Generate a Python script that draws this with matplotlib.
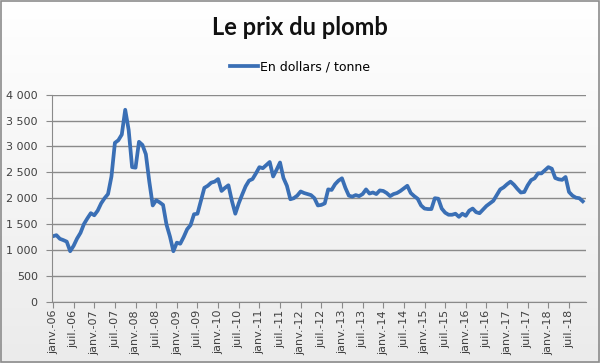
import numpy as np
import matplotlib
matplotlib.use("Agg")
import matplotlib.pyplot as plt
from matplotlib.patches import Rectangle

# Prix mensuel du plomb, janv. 2006 -> nov. 2018 (USD / tonne)
prix_2006 = [1265, 1285, 1215, 1190, 1160, 975, 1080, 1220, 1330, 1500, 1610, 1710]
prix_2007 = [1670, 1760, 1900, 2000, 2080, 2420, 3070, 3120, 3230, 3710, 3320, 2600]
prix_2008 = [2590, 3090, 3030, 2850, 2320, 1860, 1960, 1920, 1870, 1490, 1260, 975]
prix_2009 = [1140, 1120, 1250, 1400, 1480, 1690, 1700, 1950, 2200, 2240, 2300, 2320]
prix_2010 = [2370, 2140, 2200, 2250, 1950, 1700, 1900, 2070, 2230, 2340, 2370, 2480]
prix_2011 = [2600, 2580, 2640, 2700, 2420, 2550, 2690, 2390, 2240, 1980, 2000, 2050]
prix_2012 = [2130, 2100, 2080, 2060, 2000, 1860, 1870, 1900, 2170, 2160, 2270, 2340]
prix_2013 = [2385, 2200, 2050, 2030, 2060, 2040, 2080, 2170, 2090, 2110, 2080, 2150]
prix_2014 = [2140, 2100, 2040, 2080, 2100, 2140, 2190, 2240, 2100, 2040, 1990, 1860]
prix_2015 = [1800, 1790, 1790, 2000, 1990, 1800, 1720, 1680, 1680, 1700, 1640, 1700]
prix_2016 = [1660, 1760, 1800, 1730, 1710, 1780, 1850, 1900, 1950, 2060, 2170, 2210]
prix_2017 = [2270, 2320, 2260, 2180, 2110, 2120, 2250, 2350, 2385, 2480, 2480, 2540]
prix_2018 = [2600, 2570, 2390, 2365, 2355, 2410, 2120, 2050, 2010, 2000, 1940]

prix = (prix_2006 + prix_2007 + prix_2008 + prix_2009 + prix_2010 + prix_2011
        + prix_2012 + prix_2013 + prix_2014 + prix_2015 + prix_2016 + prix_2017 + prix_2018)
mois = np.arange(len(prix))

annees = ["06", "07", "08", "09", "10", "11", "12", "13", "14", "15", "16", "17", "18"]
etiquettes = []
for a in annees:
    etiquettes += ["janv.-" + a, "juil.-" + a]

bleu = "#3a6fb5"
gris_txt = "#404040"

fig = plt.figure(figsize=(6, 3.63), dpi=100)

# fond en degrade (blanc -> gris clair)
fond = fig.add_axes([0, 0, 1, 1], zorder=-10)
grad = np.linspace(0, 1, 256).reshape(-1, 1)
fond.imshow(grad, aspect="auto", cmap=matplotlib.colors.LinearSegmentedColormap.from_list(
    "f", ["#ffffff", "#ebebeb"]), extent=[0, 1, 0, 1])
fond.set_xlim(0, 1)
fond.set_ylim(0, 1)
fond.axis("off")
fond.add_patch(Rectangle((0.001, 0.002), 0.997, 0.995, fill=False, edgecolor="#8c8c8c",
                         linewidth=1.2, transform=fond.transAxes))

ax = fig.add_axes([0.086, 0.169, 0.891, 0.570])
ax.patch.set_alpha(0)
ax.plot(mois, prix, color=bleu, linewidth=2.7, solid_joinstyle="round",
        label="En dollars / tonne")

ax.set_ylim(0, 4000)
ax.set_yticks(np.arange(0, 4001, 500))
ax.set_yticklabels([f"{v:,}".replace(",", " ") for v in range(0, 4001, 500)])
ax.set_xlim(-0.4, 155)
ax.set_xticks(np.arange(len(etiquettes)) * 6)
ax.set_xticklabels(etiquettes, rotation=90)

ax.grid(axis="y", color="#8a8a8a", linewidth=1)
ax.set_axisbelow(True)
for s in ["top", "right"]:
    ax.spines[s].set_visible(False)
for s in ["left", "bottom"]:
    ax.spines[s].set_color("#8a8a8a")
ax.tick_params(axis="both", colors="#8a8a8a", labelcolor=gris_txt, labelsize=8,
               length=4, direction="out")
ax.tick_params(axis="y", pad=6)
ax.tick_params(axis="x", pad=2)

fig.text(0.5, 0.925, "Le prix du plomb", ha="center", va="center",
         fontsize=17, fontweight="bold", family="Lato", color="#111111")
fig.legend(loc="center", bbox_to_anchor=(0.5, 0.815), frameon=False, fontsize=9,
           handlelength=2.2, handletextpad=0.2)

plt.savefig("out.png", dpi=100)
